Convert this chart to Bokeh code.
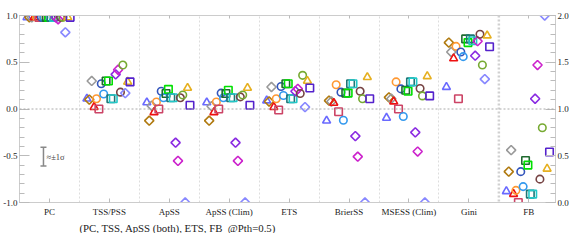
import math
import numpy as np
from bokeh.plotting import figure
from bokeh.models import (Range1d, LinearAxis, FixedTicker, PrintfTickFormatter, Span,
                          Whisker, ColumnDataSource, Title, Label, CustomJSTickFormatter)
from bokeh.transform import dodge
from bokeh.embed import file_html
from bokeh.resources import INLINE

categories = ["PC", "TSS/PSS", "ApSS", "ApSS (Clim)", "ETS", "BrierSS", "MSESS (Clim)", "Gini", "FB"]
# the first eight categories are read on the left axis (-1..1), FB on the right axis (0..2)

periwinkle_triangle = [0.98, 0.11, 0.07, 0.07, 0.09, -0.125, -0.095, 0.235, 0.12]
brown_diamond       = [0.98, 0.10, -0.125, -0.125, 0.08, 0.09, 0.125, 0.71, 0.33]
gray_diamond        = [0.98, 0.30, 0.035, 0.03, 0.235, 0.08, 0.11, 0.61, 0.56]
red_triangle        = [0.98, 0.02, -0.035, -0.035, 0.02, 0.065, 0.08, 0.54, 0.09]
orange_circle       = [0.98, 0.11, 0.075, 0.075, 0.11, 0.26, 0.29, 0.67, 0.13]
pink_square         = [0.98, 0.00, 0.00, 0.00, -0.01, -0.03, 0.00, 0.11, 0.00]
blue_circle         = [0.98, 0.27, 0.19, 0.17, 0.24, 0.18, 0.215, 0.61, 0.33]
lightblue_circle    = [0.98, 0.16, 0.12, 0.12, 0.145, -0.12, -0.08, 0.56, 0.17]
darkgreen_square    = [0.98, 0.30, 0.165, 0.165, 0.27, 0.17, 0.20, 0.75, 0.45]
green_square        = [0.98, 0.30, 0.21, 0.20, 0.27, 0.17, 0.19, 0.71, 0.40]
teal_square         = [0.98, 0.11, 0.12, 0.12, 0.11, 0.27, 0.29, 0.75, 0.09]
cyan_square         = [0.98, 0.11, 0.12, 0.12, 0.11, 0.27, 0.29, 0.73, 0.09]
purple_diamond      = [0.98, 0.37, -0.36, -0.36, 0.19, -0.29, -0.25, 0.57, 1.11]
magenta_diamond     = [0.96, 0.42, -0.555, -0.555, 0.215, -0.51, -0.455, 0.725, 1.47]
brown_circle        = [0.98, 0.18, 0.12, 0.13, 0.165, 0.19, 0.22, 0.80, 0.25]
olive_circle        = [0.98, 0.47, 0.15, 0.15, 0.36, 0.11, 0.14, 0.47, 0.80]
periwinkle_diamond  = [0.82, 0.17, -1.0, -1.0, 0.02, -1.0, -1.0, 0.32, 2.0]
gold_triangle       = [0.98, 0.29, 0.225, 0.225, 0.30, 0.34, 0.35, 0.785, 0.36]
indigo_square       = [0.98, 0.29, 0.04, 0.04, 0.225, 0.11, 0.14, 0.665, 0.54]

sigma_center = -0.51
sigma_half = 0.1

series = [
    (periwinkle_triangle, "triangle", "#6a6aff"),
    (brown_diamond, "diamond", "#b07a10"),
    (gray_diamond, "diamond", "#999999"),
    (red_triangle, "triangle", "#ee1111"),
    (orange_circle, "circle", "#ff9933"),
    (pink_square, "square", "#cc4466"),
    (blue_circle, "circle", "#3355bb"),
    (lightblue_circle, "circle", "#3399ee"),
    (darkgreen_square, "square", "#1f6a2f"),
    (green_square, "square", "#00e000"),
    (teal_square, "square", "#1f7676"),
    (cyan_square, "square", "#22c8c8"),
    (purple_diamond, "diamond", "#8a2be2"),
    (magenta_diamond, "diamond", "#cc22cc"),
    (brown_circle, "circle", "#774444"),
    (olive_circle, "circle", "#77aa33"),
    (periwinkle_diamond, "diamond", "#8888ff"),
    (gold_triangle, "triangle", "#e6b020"),
    (indigo_square, "square", "#5522cc"),
]

FONT = "Liberation Serif"
n = len(categories)
idx = list(range(n))

p = figure(frame_width=536, frame_height=187, output_backend="svg", toolbar_location=None,
           x_range=Range1d(-0.5, n - 1 + 0.445), y_range=Range1d(-1, 1),
           min_border_left=15, min_border_right=14, min_border_top=15, min_border_bottom=10,
           background_fill_color="white", border_fill_color="white")
p.extra_y_ranges = {"fb": Range1d(0, 2)}
p.outline_line_color = "#cccccc"

# grid
p.ygrid.visible = False
p.xgrid.ticker = FixedTicker(ticks=[i + 0.5 for i in range(n - 2)])
p.xgrid.grid_line_color = "#dddddd"
p.xgrid.grid_line_dash = "2 2"
p.xgrid.grid_line_width = 1
p.add_layout(Span(location=n - 1.5, dimension="height", line_color="#d0d0d0",
                  line_width=2.5, line_dash="2 2"))
p.add_layout(Span(location=0, dimension="width", line_color="#aaaaaa",
                  line_width=1, line_dash="2 2"))

def style_axis(ax):
    ax.axis_line_color = "#cccccc"
    ax.major_tick_line_color = "#bbbbbb"
    ax.minor_tick_line_color = "#bbbbbb"
    ax.major_label_text_font = FONT
    ax.major_label_text_font_size = "9px"
    ax.major_label_text_color = "#222222"
    ax.major_tick_out = 0
    ax.minor_tick_out = 0

# bottom axis
xa = p.xaxis[0]
xa.ticker = FixedTicker(ticks=idx)
xa.major_label_overrides = {i: c for i, c in enumerate(categories)}
style_axis(xa)
xa.major_tick_in = 4
xa.major_label_standoff = 4

# top axis (ticks only)
ta = LinearAxis(ticker=FixedTicker(ticks=idx), formatter=CustomJSTickFormatter(code="return ''"))
style_axis(ta)
ta.major_tick_in = 3
ta.major_label_standoff = 0
p.add_layout(ta, "above")

# left axis
minor = [round(v, 2) for v in np.arange(-1.0, 1.001, 0.1)]
ya = p.yaxis[0]
ya.ticker = FixedTicker(ticks=[-1, -0.5, 0, 0.5, 1], minor_ticks=minor)
ya.formatter = PrintfTickFormatter(format="%.1f")
style_axis(ya)
ya.major_tick_in = 10
ya.minor_tick_in = 5
ya.major_label_standoff = 2

# right axis
ra = LinearAxis(y_range_name="fb",
                ticker=FixedTicker(ticks=[0, 0.5, 1, 1.5, 2],
                                   minor_ticks=[round(v, 2) for v in np.arange(0, 2.001, 0.1)]),
                formatter=PrintfTickFormatter(format="%.1f"))
style_axis(ra)
ra.major_tick_in = 10
ra.minor_tick_in = 5
ra.major_label_standoff = 2
p.add_layout(ra, "right")

# markers
for k, (vals, marker, color) in enumerate(series):
    off = -0.375 + 0.04 * k
    m = "square" if marker == "diamond" else marker
    ang = math.pi / 4 if marker == "diamond" else 0
    size = {"triangle": 8, "circle": 7.5, "square": 7.5, "diamond": 6.5}[marker]
    left = ColumnDataSource(dict(xi=idx[:-1], v=vals[:-1]))
    right = ColumnDataSource(dict(xi=idx[-1:], v=vals[-1:]))
    for src, rn in ((left, "default"), (right, "fb")):
        p.scatter(x=dodge("xi", off), y="v", source=src, marker=m, angle=ang, size=size,
                  fill_color=None, line_color=color, line_width=1.6, y_range_name=rn)

# +-1 sigma reference bar
wsrc = ColumnDataSource(dict(b=[-0.1], lo=[sigma_center - sigma_half], hi=[sigma_center + sigma_half]))
w = Whisker(base="b", lower="lo", upper="hi", source=wsrc, dimension="height",
            line_color="#888888", line_width=1.5)
for h in (w.upper_head, w.lower_head):
    h.size = 6
    h.line_color = "#888888"
    h.line_width = 1.5
p.add_layout(w)
p.add_layout(Label(x=-0.05, y=sigma_center, text="≈±1σ", text_baseline="middle",
                   text_font=FONT, text_font_size="8.5px", text_color="#444444"))

note = Title(text="(PC, TSS, ApSS (both), ETS, FB\u00a0\u00a0@Pth=0.5)", align="left", offset=60,
             text_font=FONT, text_font_size="10.8px", text_font_style="normal",
             text_color="#222222", standoff=0)
p.add_layout(note, "below")

open("out.html", "w").write(file_html(p, INLINE))
